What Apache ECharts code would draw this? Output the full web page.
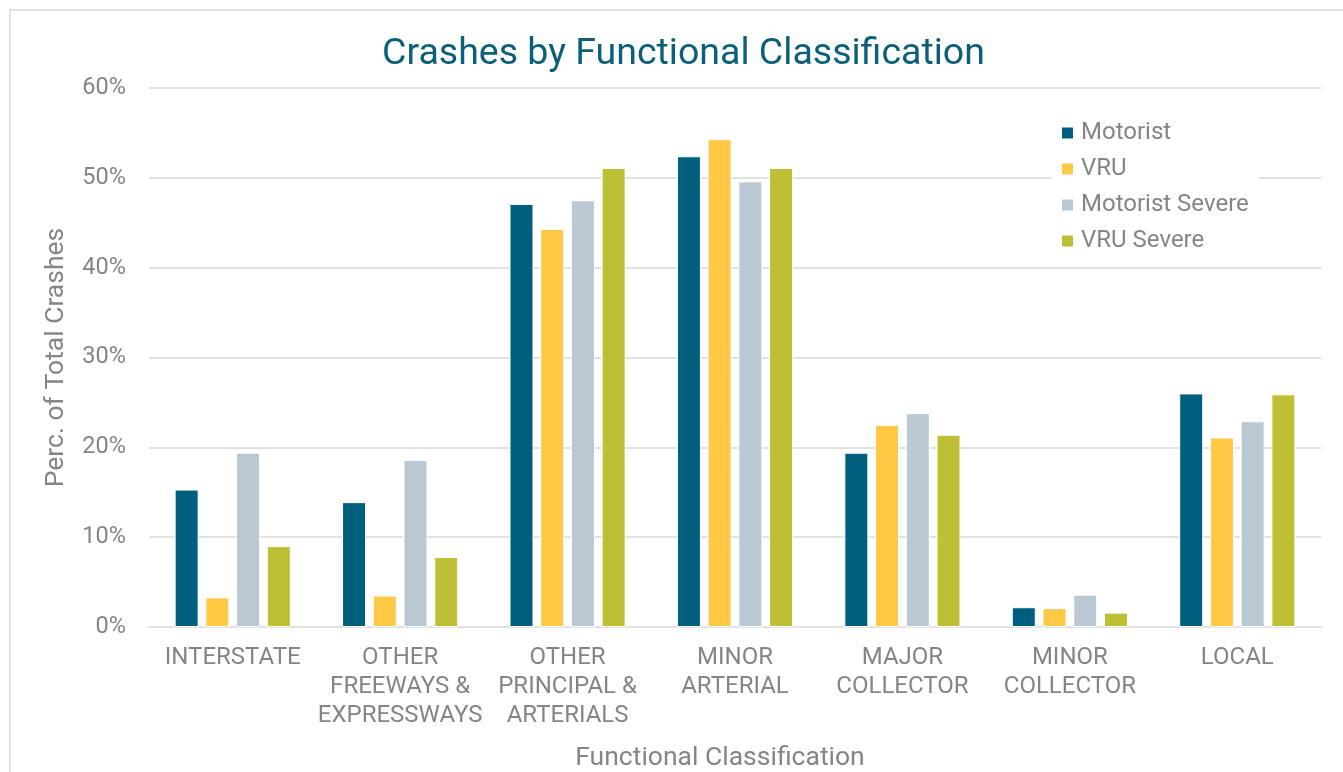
<!DOCTYPE html>
<html>
<head>
<meta charset="utf-8">
<title>Crashes by Functional Classification</title>
<script src="https://cdn.jsdelivr.net/npm/echarts@6/dist/echarts.min.js"></script>
<style>
  html, body { margin: 0; padding: 0; background: #fff; }
  #chart { width: 1343px; height: 772px; }
</style>
</head>
<body>
<div id="chart"></div>
<script>
// categories along the x axis
const categories = [
    'INTERSTATE',
    'OTHER\nFREEWAYS &\nEXPRESSWAYS',
    'OTHER\nPRINCIPAL &\nARTERIALS',
    'MINOR\nARTERIAL',
    'MAJOR\nCOLLECTOR',
    'MINOR\nCOLLECTOR',
    'LOCAL'
];

// percent of total crashes
const motorist       = [15.3, 13.9, 47.1, 52.4, 19.4, 2.2, 26.0];
const vru            = [3.3, 3.5, 44.3, 54.3, 22.5, 2.1, 21.1];
const motoristSevere = [19.4, 18.6, 47.5, 49.6, 23.8, 3.6, 22.9];
const vruSevere      = [9.0, 7.8, 51.1, 51.1, 21.4, 1.6, 25.9];

const seriesNames  = ['Motorist', 'VRU', 'Motorist Severe', 'VRU Severe'];
const seriesColors = ['#005F7E', '#FFC845', '#BAC8D3', '#BDBF35'];

const FONT = 'Roboto';
const GRAY = '#858585';

function makeBar(name, values, color) {
    return {
        name: name,
        type: 'bar',
        data: values,
        barWidth: 24,
        barGap: '28%',
        itemStyle: { color: color, borderColor: '#ffffff', borderWidth: 1 }
    };
}

const chart = echarts.init(document.getElementById('chart'));

const option = {
    backgroundColor: '#ffffff',
    animation: false,
    textStyle: { fontFamily: FONT },
    graphic: [
        {
            type: 'rect',
            shape: { x: 10, y: 10, width: 1400, height: 800 },
            style: { fill: 'none', stroke: '#e2e2e2', lineWidth: 2 },
            silent: true
        }
    ],
    title: {
        text: 'Crashes by Functional Classification',
        left: 377,
        top: 31,
        textStyle: { fontFamily: FONT, fontSize: 37.5, fontWeight: 'normal', color: '#0B5F78' }
    },
    legend: {
        orient: 'vertical',
        left: 1052,
        top: 117,
        itemWidth: 13,
        itemHeight: 13,
        itemGap: 12,
        icon: 'rect',
        backgroundColor: '#ffffff',
        padding: [4, 10, 4, 8],
        textStyle: { fontFamily: FONT, fontSize: 24, lineHeight: 24, color: GRAY, padding: [0, 0, 0, 2] },
        data: seriesNames
    },
    grid: { left: 149, right: 22, top: 88, bottom: 145, containLabel: false, outerBoundsMode: 'none' },
    xAxis: {
        type: 'category',
        data: categories,
        name: 'Functional Classification',
        nameLocation: 'middle',
        nameGap: 118,
        nameTextStyle: { fontFamily: FONT, fontSize: 26.5, color: GRAY, padding: [0, 30, 0, 0] },
        axisLine: { lineStyle: { color: '#e2e2e2', width: 2 } },
        axisTick: { show: false },
        axisLabel: {
            interval: 0,
            margin: 16,
            fontFamily: FONT,
            fontSize: 24,
            lineHeight: 29,
            color: GRAY
        }
    },
    yAxis: {
        type: 'value',
        min: 0,
        max: 60,
        interval: 10,
        name: 'Perc. of Total Crashes',
        nameLocation: 'middle',
        nameGap: 79,
        nameTextStyle: { fontFamily: FONT, fontSize: 26.5, color: GRAY },
        axisLine: { show: false },
        axisTick: { show: false },
        axisLabel: {
            margin: 23,
            fontFamily: FONT,
            fontSize: 23.5,
            color: GRAY,
            formatter: '{value}%'
        },
        splitLine: { lineStyle: { color: '#e2e2e2', width: 2 } }
    },
    series: [
        makeBar(seriesNames[0], motorist, seriesColors[0]),
        makeBar(seriesNames[1], vru, seriesColors[1]),
        makeBar(seriesNames[2], motoristSevere, seriesColors[2]),
        makeBar(seriesNames[3], vruSevere, seriesColors[3])
    ]
};

chart.setOption(option);
</script>
</body>
</html>
